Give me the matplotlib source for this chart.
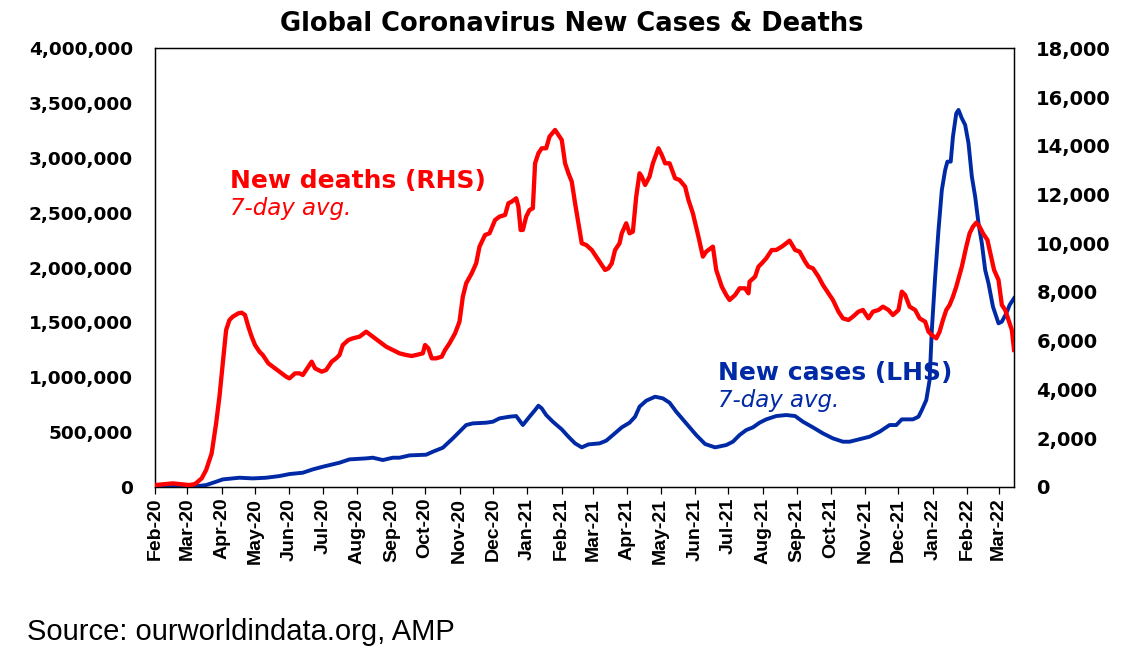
import matplotlib.pyplot as plt
import matplotlib.dates as mdates
import matplotlib.ticker as mticker
import pandas as pd


# new deaths, 7-day average (right axis)
death_dates = [
    "2020-02-01", "2020-02-17", "2020-03-03", "2020-03-08", "2020-03-14", "2020-03-18",
    "2020-03-23", "2020-03-27", "2020-03-30", "2020-04-02", "2020-04-05", "2020-04-08",
    "2020-04-11", "2020-04-16", "2020-04-19", "2020-04-22", "2020-04-25", "2020-04-28",
    "2020-05-01", "2020-05-05", "2020-05-08", "2020-05-13", "2020-05-17", "2020-05-23",
    "2020-05-29", "2020-06-01", "2020-06-06", "2020-06-10", "2020-06-13", "2020-06-16",
    "2020-06-21", "2020-06-24", "2020-06-30", "2020-07-04", "2020-07-09", "2020-07-13",
    "2020-07-16", "2020-07-19", "2020-07-24", "2020-07-28", "2020-08-03", "2020-08-09",
    "2020-08-15", "2020-08-21", "2020-08-27", "2020-09-02", "2020-09-08", "2020-09-14",
    "2020-09-19", "2020-09-23", "2020-09-29", "2020-10-01", "2020-10-04", "2020-10-07",
    "2020-10-11", "2020-10-16", "2020-10-19", "2020-10-23", "2020-10-28", "2020-11-01",
    "2020-11-04", "2020-11-07", "2020-11-12", "2020-11-16", "2020-11-19", "2020-11-24",
    "2020-11-28", "2020-12-03", "2020-12-07", "2020-12-12", "2020-12-15", "2020-12-18",
    "2020-12-22", "2020-12-24", "2020-12-26", "2020-12-28", "2020-12-31", "2021-01-03",
    "2021-01-06", "2021-01-08", "2021-01-11", "2021-01-14", "2021-01-18", "2021-01-21",
    "2021-01-26", "2021-01-29", "2021-02-01", "2021-02-04", "2021-02-07", "2021-02-10",
    "2021-02-13", "2021-02-16", "2021-02-19", "2021-02-23", "2021-02-28", "2021-03-04",
    "2021-03-07", "2021-03-12", "2021-03-15", "2021-03-18", "2021-03-21", "2021-03-25",
    "2021-03-27", "2021-03-31", "2021-04-03", "2021-04-06", "2021-04-09", "2021-04-12",
    "2021-04-14", "2021-04-17", "2021-04-21", "2021-04-24", "2021-04-29", "2021-05-02",
    "2021-05-05", "2021-05-09", "2021-05-14", "2021-05-18", "2021-05-23", "2021-05-26",
    "2021-05-30", "2021-06-04", "2021-06-08", "2021-06-11", "2021-06-17", "2021-06-20",
    "2021-06-25", "2021-06-29", "2021-07-02", "2021-07-07", "2021-07-11", "2021-07-16",
    "2021-07-19", "2021-07-20", "2021-07-25", "2021-07-28", "2021-07-31", "2021-08-04",
    "2021-08-09", "2021-08-13", "2021-08-18", "2021-08-22", "2021-08-25", "2021-08-30",
    "2021-09-03", "2021-09-08", "2021-09-11", "2021-09-15", "2021-09-20", "2021-09-24",
    "2021-09-29", "2021-10-03", "2021-10-08", "2021-10-12", "2021-10-17", "2021-10-21",
    "2021-10-26", "2021-10-30", "2021-11-04", "2021-11-08", "2021-11-13", "2021-11-17",
    "2021-11-22", "2021-11-26", "2021-12-01", "2021-12-04", "2021-12-07", "2021-12-11",
    "2021-12-16", "2021-12-20", "2021-12-25", "2021-12-28", "2021-12-31", "2022-01-04",
    "2022-01-07", "2022-01-10", "2022-01-13", "2022-01-16", "2022-01-19", "2022-01-22",
    "2022-01-27", "2022-01-31", "2022-02-03", "2022-02-06", "2022-02-09", "2022-02-12",
    "2022-02-15", "2022-02-19", "2022-02-22", "2022-02-25", "2022-03-01", "2022-03-04",
    "2022-03-07", "2022-03-10", "2022-03-13", "2022-03-15",
]
deaths = [
    68, 137, 68, 110, 342, 685,
    1369, 2601, 3696, 5065, 6434, 6845,
    6982, 7119, 7146, 7050, 6571, 6160,
    5818, 5544, 5408, 5065, 4928, 4723,
    4518, 4449, 4655, 4655, 4586, 4792,
    5134, 4860, 4723, 4792, 5134, 5271,
    5408, 5818, 6024, 6092, 6160, 6366,
    6160, 5955, 5750, 5613, 5476, 5408,
    5366, 5408, 5476, 5818, 5681, 5271,
    5271, 5339, 5613, 5887, 6297, 6777,
    7803, 8351, 8762, 9172, 9857, 10336,
    10404, 10952, 11089, 11157, 11637, 11705,
    11842, 11500, 10541, 10541, 11089, 11363,
    11431, 13279, 13690, 13895, 13895, 14375,
    14648, 14443, 14238, 13279, 12869, 12526,
    11637, 10815, 9994, 9925, 9720, 9446,
    9241, 8899, 8967, 9172, 9720, 9994,
    10404, 10815, 10404, 10473, 11910, 12869,
    12732, 12389, 12732, 13279, 13895, 13622,
    13279, 13279, 12663, 12595, 12321, 11773,
    11226, 10268, 9446, 9651, 9857, 8899,
    8214, 7872, 7666, 7872, 8146, 8146,
    7940, 8419, 8625, 9035, 9172, 9378,
    9720, 9720, 9857, 9994, 10103, 9720,
    9651, 9241, 9035, 8967, 8625, 8282,
    7940, 7666, 7187, 6913, 6845, 6982,
    7187, 7256, 6913, 7187, 7256, 7393,
    7256, 7050, 7256, 8009, 7872, 7393,
    7256, 6913, 6777, 6366, 6229, 6092,
    6366, 6845, 7256, 7461, 7803, 8214,
    9035, 9857, 10404, 10678, 10843, 10678,
    10404, 10131, 9515, 8899, 8488, 7461,
    7256, 6845, 6434, 5613,
]

# new cases, 7-day average (left axis)
case_dates = [
    "2020-02-01", "2020-02-15", "2020-03-01", "2020-03-09", "2020-03-18", "2020-03-27",
    "2020-04-02", "2020-04-11", "2020-04-17", "2020-04-29", "2020-05-11", "2020-05-23",
    "2020-06-01", "2020-06-13", "2020-06-22", "2020-07-01", "2020-07-16", "2020-07-25",
    "2020-08-09", "2020-08-15", "2020-08-24", "2020-09-02", "2020-09-08", "2020-09-17",
    "2020-10-02", "2020-10-08", "2020-10-17", "2020-10-26", "2020-11-01", "2020-11-07",
    "2020-11-13", "2020-11-25", "2020-12-01", "2020-12-07", "2020-12-16", "2020-12-22",
    "2020-12-28", "2021-01-03", "2021-01-08", "2021-01-11", "2021-01-14", "2021-01-18",
    "2021-01-24", "2021-02-01", "2021-02-07", "2021-02-13", "2021-02-19", "2021-02-25",
    "2021-03-07", "2021-03-13", "2021-03-19", "2021-03-27", "2021-04-03", "2021-04-08",
    "2021-04-12", "2021-04-18", "2021-04-26", "2021-05-03", "2021-05-09", "2021-05-15",
    "2021-05-24", "2021-06-02", "2021-06-10", "2021-06-19", "2021-06-29", "2021-07-05",
    "2021-07-11", "2021-07-17", "2021-07-23", "2021-07-29", "2021-08-04", "2021-08-13",
    "2021-08-22", "2021-08-30", "2021-09-06", "2021-09-15", "2021-09-24", "2021-10-03",
    "2021-10-12", "2021-10-18", "2021-10-30", "2021-11-05", "2021-11-14", "2021-11-23",
    "2021-11-29", "2021-12-04", "2021-12-14", "2021-12-19", "2021-12-22", "2021-12-26",
    "2021-12-29", "2021-12-31", "2022-01-03", "2022-01-06", "2022-01-09", "2022-01-12",
    "2022-01-14", "2022-01-17", "2022-01-19", "2022-01-22", "2022-01-24", "2022-01-27",
    "2022-01-30", "2022-02-02", "2022-02-05", "2022-02-08", "2022-02-11", "2022-02-14",
    "2022-02-17", "2022-02-20", "2022-02-24", "2022-03-01", "2022-03-04", "2022-03-08",
    "2022-03-11", "2022-03-15",
]
cases = [
    2000, 2500, 1500, 4000, 15000, 45600,
    66900, 76000, 82100, 76000, 82100, 97300,
    115600, 127800, 158200, 182500, 219000, 249400,
    258600, 264700, 243400, 264700, 264700, 285900,
    292000, 319400, 355900, 441100, 501900, 562800,
    578000, 584100, 593200, 623600, 638800, 644900,
    562800, 638800, 699700, 739200, 714900, 654000,
    593200, 523200, 456300, 395500, 359000, 386300,
    395500, 419800, 471500, 541500, 584100, 638800,
    730100, 784800, 821300, 806100, 766600, 684500,
    578000, 471500, 389400, 359000, 380300, 410700,
    471500, 517100, 541500, 584100, 614500, 644900,
    654000, 644900, 593200, 541500, 486700, 441100,
    410700, 410700, 441100, 456300, 501900, 562800,
    562800, 614500, 614500, 638800, 699700, 790900,
    973400, 1429700, 1916500, 2342300, 2707400, 2889900,
    2966000, 2966000, 3194100, 3407000, 3437500, 3361400,
    3300600, 3133300, 2829100, 2646500, 2403200, 2220700,
    1977300, 1855600, 1642700, 1490600, 1505800, 1581800,
    1657900, 1720000,
]

red = "#FF0000"
blue = "#0029A6"

fig = plt.figure(figsize=(11.28, 6.58), dpi=100)
ax = fig.add_axes([0.1374, 0.2603, 0.7616, 0.6663])
ax2 = ax.twinx()

ax.plot(pd.to_datetime(case_dates), cases, color=blue, lw=2.8, zorder=3)
ax2.plot(pd.to_datetime(death_dates), deaths, color=red, lw=3.1, zorder=3)

ax.set_xlim(pd.Timestamp("2020-02-01"), pd.Timestamp("2022-03-15"))
ax.set_ylim(0, 4000000)
ax2.set_ylim(0, 18000)
ax.yaxis.set_major_locator(mticker.MultipleLocator(500000))
ax2.yaxis.set_major_locator(mticker.MultipleLocator(2000))
fmt = mticker.FuncFormatter(lambda v, p: "{:,.0f}".format(v))
ax.yaxis.set_major_formatter(fmt)
ax2.yaxis.set_major_formatter(fmt)

ax.xaxis.set_major_locator(mdates.MonthLocator())
ax.xaxis.set_major_formatter(mdates.DateFormatter("%b-%y"))

for a in (ax, ax2):
    for s in a.spines.values():
        s.set_linewidth(0.9)
        s.set_color("black")
ax.tick_params(axis="y", length=0, pad=16)
ax2.tick_params(axis="y", length=0, pad=16)
ax.tick_params(axis="x", length=5, width=0.9, pad=3, rotation=90)
for lab in ax.get_yticklabels():
    lab.set_fontfamily("DejaVu Sans")
    lab.set_fontweight("bold")
    lab.set_fontsize(13.3)
for lab in ax2.get_yticklabels():
    lab.set_fontfamily("DejaVu Sans")
    lab.set_fontweight("bold")
    lab.set_fontsize(14)
for lab in ax.get_xticklabels():
    lab.set_fontfamily("Liberation Sans")
    lab.set_fontweight("bold")
    lab.set_fontsize(14)

fig.text(0.507, 0.9635, "Global Coronavirus New Cases & Deaths", ha="center", va="center",
         fontsize=18.5, fontweight="bold", family="DejaVu Sans")

ax.text(0.0873, 0.681, "New deaths (RHS)", transform=ax.transAxes, color=red,
        fontsize=18, fontweight="bold", family="DejaVu Sans", va="baseline")
ax.text(0.0873, 0.619, "7-day avg.", transform=ax.transAxes, color=red,
        fontsize=16.5, style="italic", family="DejaVu Sans", va="baseline")
ax.text(0.655, 0.243, "New cases (LHS)", transform=ax.transAxes, color=blue,
        fontsize=18, fontweight="bold", family="DejaVu Sans", va="baseline")
ax.text(0.655, 0.182, "7-day avg.", transform=ax.transAxes, color=blue,
        fontsize=16.5, style="italic", family="DejaVu Sans", va="baseline")

fig.text(0.024, 0.0274, "Source: ourworldindata.org, AMP", fontsize=21,
         family="Liberation Sans", va="baseline")

fig.savefig("out.png", dpi=100)
